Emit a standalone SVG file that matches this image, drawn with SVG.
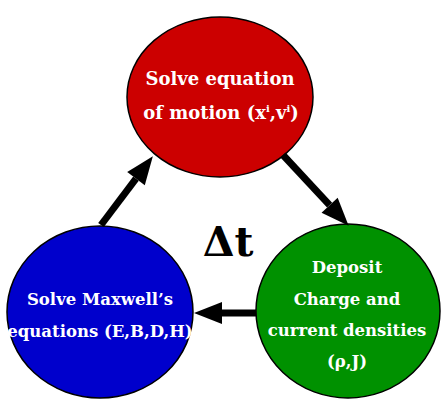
<svg xmlns="http://www.w3.org/2000/svg" width="441" height="400" viewBox="0 0 441 400">
<style>
.node{stroke:#000;stroke-width:1.5}
.lbl{font-family:"DejaVu Serif","Liberation Serif",serif;font-weight:bold;font-size:16.5px;fill:#fff;text-anchor:middle}
.big{font-size:18px}
.conn{stroke:#000;stroke-width:7;fill:none;marker-end:url(#ah)}
</style>
<defs>
<marker id="ah" markerUnits="userSpaceOnUse" markerWidth="28" markerHeight="22" refX="0" refY="11" orient="auto" overflow="visible">
<path d="M0,0 L28,11 L0,22 z" fill="#000"/>
</marker>
</defs>
<rect width="441" height="400" fill="#fff"/>
<g id="node-motion">
<ellipse class="node" cx="220" cy="97" rx="93" ry="80" fill="#cc0000"/>
<text class="lbl big" x="220" y="85">Solve equation</text>
<text class="lbl big" x="221" y="119">of motion (x<tspan font-size="10" dy="-7">i</tspan><tspan dy="7">,v</tspan><tspan font-size="10" dy="-7">i</tspan><tspan dy="7">)</tspan></text>
</g>
<g id="node-maxwell">
<ellipse class="node" cx="100" cy="312" rx="93" ry="86" fill="#0000cc"/>
<text class="lbl" x="100" y="305">Solve Maxwell’s</text>
<text class="lbl" x="100" y="337">equations (E,B,D,H)</text>
</g>
<g id="node-deposit">
<ellipse class="node" cx="348" cy="311" rx="92" ry="87" fill="#009100"/>
<text class="lbl" x="347" y="273">Deposit</text>
<text class="lbl" x="347" y="305">Charge and</text>
<text class="lbl" x="347" y="336">current densities</text>
<text class="lbl" x="347" y="367">(ρ,J)</text>
</g>
<g id="connectors">
<line class="conn" x1="101" y1="225" x2="136" y2="178.6"/>
<line class="conn" x1="283" y1="155" x2="329.6" y2="205.2"/>
<line class="conn" x1="256" y1="313" x2="222" y2="313"/>
</g>
<text x="228" y="256" font-family="DejaVu Serif,Liberation Serif,serif" font-weight="bold" font-size="41" text-anchor="middle" fill="#000">Δt</text>
</svg>
